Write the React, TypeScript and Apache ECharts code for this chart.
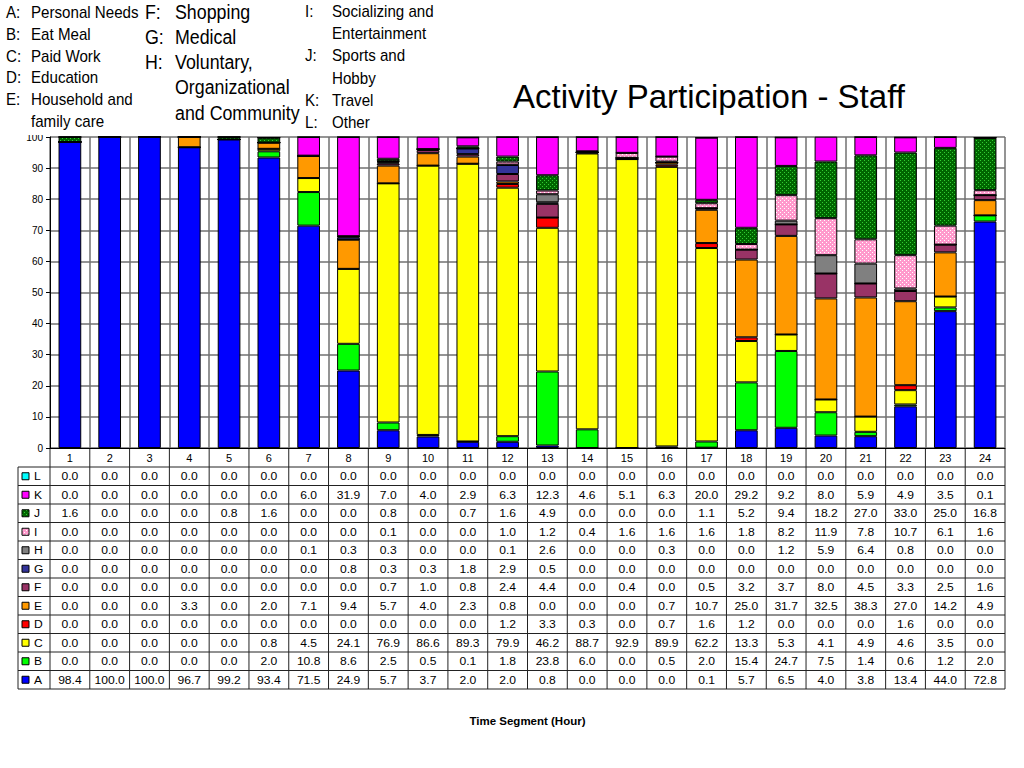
import React, { useEffect, useRef } from "react";
import * as echarts from "echarts";

const hours = ["1", "2", "3", "4", "5", "6", "7", "8", "9", "10", "11", "12", "13", "14", "15", "16", "17", "18", "19", "20", "21", "22", "23", "24"];
const activityCodes = ["A", "B", "C", "D", "E", "F", "G", "H", "I", "J", "K", "L"];

const valuesA = [98.4, 100.0, 100.0, 96.7, 99.2, 93.4, 71.5, 24.9, 5.7, 3.7, 2.0, 2.0, 0.8, 0.0, 0.0, 0.0, 0.1, 5.7, 6.5, 4.0, 3.8, 13.4, 44.0, 72.8];
const valuesB = [0.0, 0.0, 0.0, 0.0, 0.0, 2.0, 10.8, 8.6, 2.5, 0.5, 0.1, 1.8, 23.8, 6.0, 0.0, 0.5, 2.0, 15.4, 24.7, 7.5, 1.4, 0.6, 1.2, 2.0];
const valuesC = [0.0, 0.0, 0.0, 0.0, 0.0, 0.8, 4.5, 24.1, 76.9, 86.6, 89.3, 79.9, 46.2, 88.7, 92.9, 89.9, 62.2, 13.3, 5.3, 4.1, 4.9, 4.6, 3.5, 0.0];
const valuesD = [0.0, 0.0, 0.0, 0.0, 0.0, 0.0, 0.0, 0.0, 0.0, 0.0, 0.0, 1.2, 3.3, 0.3, 0.0, 0.7, 1.6, 1.2, 0.0, 0.0, 0.0, 1.6, 0.0, 0.0];
const valuesE = [0.0, 0.0, 0.0, 3.3, 0.0, 2.0, 7.1, 9.4, 5.7, 4.0, 2.3, 0.8, 0.0, 0.0, 0.0, 0.7, 10.7, 25.0, 31.7, 32.5, 38.3, 27.0, 14.2, 4.9];
const valuesF = [0.0, 0.0, 0.0, 0.0, 0.0, 0.0, 0.0, 0.0, 0.7, 1.0, 0.8, 2.4, 4.4, 0.0, 0.4, 0.0, 0.5, 3.2, 3.7, 8.0, 4.5, 3.3, 2.5, 1.6];
const valuesG = [0.0, 0.0, 0.0, 0.0, 0.0, 0.0, 0.0, 0.8, 0.3, 0.3, 1.8, 2.9, 0.5, 0.0, 0.0, 0.0, 0.0, 0.0, 0.0, 0.0, 0.0, 0.0, 0.0, 0.0];
const valuesH = [0.0, 0.0, 0.0, 0.0, 0.0, 0.0, 0.1, 0.3, 0.3, 0.0, 0.0, 0.1, 2.6, 0.0, 0.0, 0.3, 0.0, 0.0, 1.2, 5.9, 6.4, 0.8, 0.0, 0.0];
const valuesI = [0.0, 0.0, 0.0, 0.0, 0.0, 0.0, 0.0, 0.0, 0.1, 0.0, 0.0, 1.0, 1.2, 0.4, 1.6, 1.6, 1.6, 1.8, 8.2, 11.9, 7.8, 10.7, 6.1, 1.6];
const valuesJ = [1.6, 0.0, 0.0, 0.0, 0.8, 1.6, 0.0, 0.0, 0.8, 0.0, 0.7, 1.6, 4.9, 0.0, 0.0, 0.0, 1.1, 5.2, 9.4, 18.2, 27.0, 33.0, 25.0, 16.8];
const valuesK = [0.0, 0.0, 0.0, 0.0, 0.0, 0.0, 6.0, 31.9, 7.0, 4.0, 2.9, 6.3, 12.3, 4.6, 5.1, 6.3, 20.0, 29.2, 9.2, 8.0, 5.9, 4.9, 3.5, 0.1];
const valuesL = [0.0, 0.0, 0.0, 0.0, 0.0, 0.0, 0.0, 0.0, 0.0, 0.0, 0.0, 0.0, 0.0, 0.0, 0.0, 0.0, 0.0, 0.0, 0.0, 0.0, 0.0, 0.0, 0.0, 0.0];

const legendCol1 = [["A:", "Personal Needs"], ["B:", "Eat Meal"], ["C:", "Paid Work"], ["D:", "Education"], ["E:", "Household and"], ["", "family care"]];
const legendCol2 = [["F:", "Shopping"], ["G:", "Medical"], ["H:", "Voluntary,"], ["", "Organizational"], ["", "and Community"]];
const legendCol3 = [["I:", "Socializing and"], ["", "Entertainment"], ["J:", "Sports and"], ["", "Hobby"], ["K:", "Travel"], ["L:", "Other"]];

const titleText = "Activity Participation - Staff";
const xAxisTitle = "Time Segment (Hour)";

const FONT = "'Liberation Sans', Arial, Helvetica, sans-serif";

function makePattern(bg: string, dot: string) {
  const c = document.createElement("canvas");
  c.width = 4;
  c.height = 4;
  const ctx = c.getContext("2d")!;
  ctx.fillStyle = bg;
  ctx.fillRect(0, 0, 4, 4);
  ctx.fillStyle = dot;
  ctx.fillRect(0, 0, 1, 1);
  ctx.fillRect(2, 2, 1, 1);
  return { image: c.toDataURL(), repeat: "repeat", imageWidth: 4, imageHeight: 4 };
}

export default function App() {
  const ref = useRef<HTMLDivElement>(null);

  useEffect(() => {
    if (!ref.current) return;
    const chart = echarts.init(ref.current, null, { renderer: "svg" });

    const patJ = makePattern("#006600", "#33cc33");
    const patI = makePattern("#ff99cc", "#ffffff");
    const colorByCode: Record<string, any> = {
      A: "#0000ff", B: "#00ff00", C: "#ffff00", D: "#ff0000", E: "#ff9900", F: "#993366",
      G: "#333399", H: "#808080", I: patI, J: patJ, K: "#ff00ff", L: "#00ffff",
    };
    const valuesByCode: Record<string, number[]> = {
      A: valuesA, B: valuesB, C: valuesC, D: valuesD, E: valuesE, F: valuesF,
      G: valuesG, H: valuesH, I: valuesI, J: valuesJ, K: valuesK, L: valuesL,
    };

    const gridLeft = 50;
    const gridTop = 137;
    const gridWidth = 955;
    const gridHeight = 311;

    chart.setOption({
      animation: false,
      backgroundColor: "#fff",
      title: {
        text: titleText,
        left: 508,
        top: 75,
        textStyle: { fontSize: 33, fontWeight: "normal", color: "#000", fontFamily: FONT },
      },
      grid: { left: gridLeft, top: gridTop, width: gridWidth, height: gridHeight },
      xAxis: {
        type: "category",
        data: hours,
        axisLine: { lineStyle: { color: "#000", width: 1 } },
        axisTick: { show: false },
        axisLabel: { fontSize: 11, color: "#000", margin: 4, interval: 0, fontFamily: FONT },
        splitLine: { show: true, interval: 0, lineStyle: { color: "#707070", width: 1.5 } },
      },
      yAxis: {
        type: "value",
        min: 0,
        max: 100,
        interval: 10,
        axisLine: { show: true, lineStyle: { color: "#000", width: 1 } },
        axisTick: { show: true, length: 4, lineStyle: { color: "#000" } },
        axisLabel: { fontSize: 10, color: "#000", margin: 7, fontFamily: FONT },
        splitLine: { show: true, lineStyle: { color: "#707070", width: 1.5 } },
      },
      series: activityCodes.map((c) => ({
        type: "bar",
        name: c,
        stack: "total",
        data: valuesByCode[c],
        barWidth: "57%",
        silent: true,
        emphasis: { disabled: true },
        itemStyle: { color: colorByCode[c], borderColor: "#000", borderWidth: 1 },
      })),
    });

    // Data table built from the same arrays, aligned with the category axis
    const xs = hours.map((h) => chart.convertToPixel({ xAxisIndex: 0 }, h) as number);
    const colW = xs[1] - xs[0];
    const axisY = chart.convertToPixel({ yAxisIndex: 0 }, 0) as number;
    const tableLeft = 18;
    const tableRight = xs[xs.length - 1] + colW / 2;
    const tableTop = axisY + 19;
    const rowH = 18.5;
    const rowsTopToBottom = [...activityCodes].reverse();
    const tableBottom = tableTop + rowsTopToBottom.length * rowH;

    const elements: any[] = [];
    const lineColor = "#222";
    for (let r = 0; r <= rowsTopToBottom.length; r++) {
      const y = tableTop + r * rowH;
      elements.push({ type: "line", shape: { x1: tableLeft, y1: y, x2: tableRight, y2: y }, style: { stroke: lineColor, lineWidth: 1 }, silent: true });
    }
    elements.push({ type: "line", shape: { x1: tableLeft, y1: tableTop, x2: tableLeft, y2: tableBottom }, style: { stroke: lineColor, lineWidth: 1 }, silent: true });
    for (let k = 0; k <= hours.length; k++) {
      const x = xs[0] - colW / 2 + k * colW;
      elements.push({ type: "line", shape: { x1: x, y1: axisY, x2: x, y2: tableBottom }, style: { stroke: lineColor, lineWidth: 1 }, silent: true });
    }
    rowsTopToBottom.forEach((code, r) => {
      const cy = tableTop + r * rowH + rowH / 2;
      elements.push({ type: "rect", shape: { x: 22, y: cy - 3.5, width: 7, height: 7 }, style: { fill: colorByCode[code], stroke: "#000", lineWidth: 1 }, silent: true });
      elements.push({ type: "text", x: 34, y: cy, scaleX: 1.1, style: { text: code, fill: "#000", font: `11px ${FONT}`, align: "left", verticalAlign: "middle", textAlign: "left", textVerticalAlign: "middle" }, silent: true });
      valuesByCode[code].forEach((v, i) => {
        elements.push({ type: "text", x: xs[i], y: cy, scaleX: 1.1, style: { text: v.toFixed(1), fill: "#000", font: `11px ${FONT}`, align: "center", verticalAlign: "middle", textAlign: "center", textVerticalAlign: "middle" }, silent: true });
      });
    });

    // axis title
    elements.push({
      type: "text", x: (xs[0] + xs[xs.length - 1]) / 2, y: 721, scaleX: 1.15,
      style: { text: xAxisTitle, fill: "#000", font: `bold 10px ${FONT}`, align: "center", verticalAlign: "middle", textAlign: "center", textVerticalAlign: "middle" },
      silent: true,
    });

    // Activity key block (top left), on a white panel
    elements.push({ type: "rect", shape: { x: 0, y: 0, width: 442, height: 135 }, style: { fill: "#fff" }, z: 50, silent: true });
    const addCol = (lines: string[][], xKey: number, xText: number, y0: number, step: number, size: number) => {
      lines.forEach((ln, i) => {
        const y = y0 + i * step;
        if (ln[0]) {
          elements.push({ type: "text", x: xKey, y, scaleX: 0.89, z: 51, style: { text: ln[0], fill: "#000", font: `${size}px ${FONT}`, align: "left", verticalAlign: "middle", textAlign: "left", textVerticalAlign: "middle" }, silent: true });
        }
        elements.push({ type: "text", x: xText, y, scaleX: 0.89, z: 51, style: { text: ln[1], fill: "#000", font: `${size}px ${FONT}`, align: "left", verticalAlign: "middle", textAlign: "left", textVerticalAlign: "middle" }, silent: true });
      });
    };
    addCol(legendCol1, 6, 31, 12, 21.7, 17);
    addCol(legendCol2, 145, 175, 12, 25.2, 20);
    addCol(legendCol3, 305, 332, 10.5, 22.3, 17);

    chart.setOption({ graphic: { elements } });

    return () => chart.dispose();
  }, []);

  return <div ref={ref} style={{ position: "absolute", left: 0, top: 0, width: 1024, height: 768 }} />;
}
